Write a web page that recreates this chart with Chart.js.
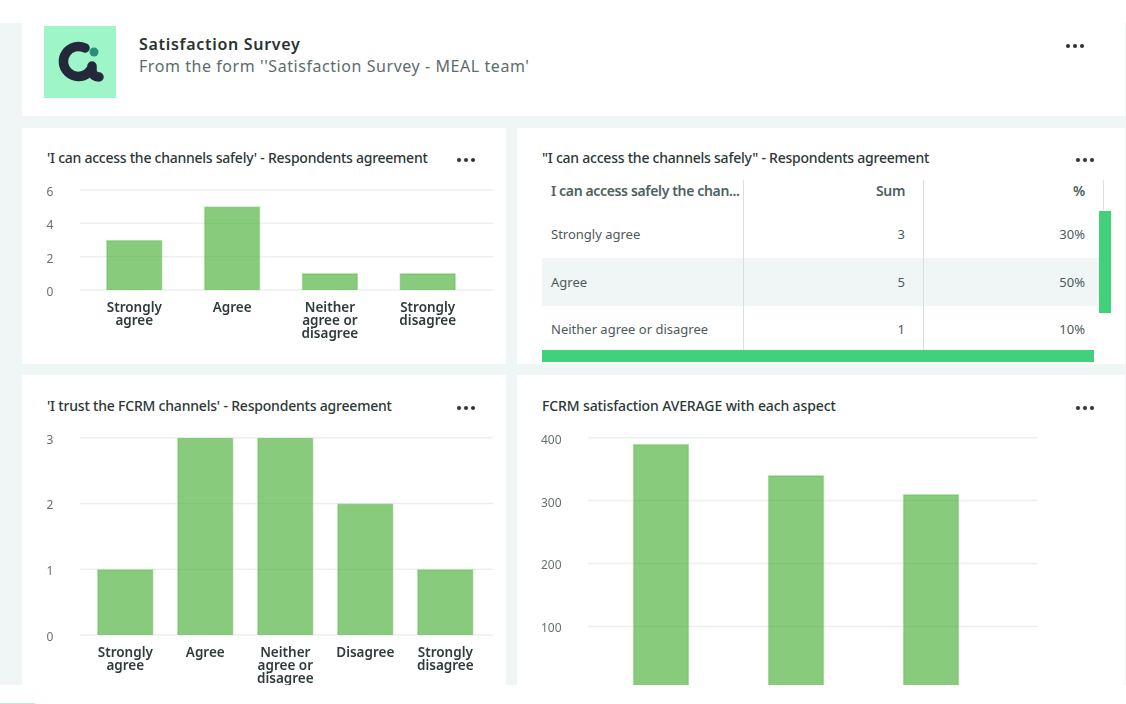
<!DOCTYPE html>
<html>
<head>
<meta charset="utf-8">
<title>Satisfaction Survey</title>
<script src="https://cdn.jsdelivr.net/npm/chart.js@4"></script>
<style>
  html, body { margin: 0; padding: 0; background: #fff; overflow: hidden; }
  body { width: 1126px; height: 704px; position: relative; font-family: "Noto Sans", sans-serif; }
  #page { position: absolute; left: 0; top: 23px; width: 1126px; height: 662px; background: #f0f6f5; overflow: hidden; }
  .card { position: absolute; background: #fff; }
  .title { position: absolute; font-size: 14px; font-weight: 500; color: #2d3838; white-space: nowrap; line-height: 20px; }
  .dots { position: absolute; font-size: 0; display: flex; gap: 3px; }
  .dots i { display: block; width: 4px; height: 4px; border-radius: 50%; background: #2a3232; }
  canvas { position: absolute; }
  #logo { position: absolute; left: 44px; top: 3px; width: 72px; height: 72px; }
  #mainTitle { position: absolute; left: 139px; top: 10px; font-size: 16px; font-weight: 600; letter-spacing: 0.7px; color: #2a3232; line-height: 22px; white-space: nowrap; }
  #subTitle { position: absolute; left: 139px; top: 32px; font-size: 16px; letter-spacing: 0.56px; color: #5d6c6c; line-height: 22px; white-space: nowrap; }
  #tableWrap { position: absolute; left: 542px; top: 157px; width: 562px; height: 193px; font-size: 13px; color: #4d5a5a; }
  .row { position: absolute; left: 0; width: 557px; }
  .row span { position: absolute; top: 0; white-space: nowrap; }
  .c1 { left: 9px; }
  .c2 { right: 194px; }
  .c3 { right: 14px; }
  .head { font-weight: 600; font-size: 14px; letter-spacing: -0.35px; color: #4f6060; }
  .vline { position: absolute; top: 0; width: 1px; height: 170px; background: #d9dede; }
  .green { position: absolute; background: #43d07a; }
  #bottomMark { position: absolute; left: 0; top: 703px; width: 35px; height: 1px; background: #b5f0d0; }
</style>
</head>
<body>
<div id="page">
  <div class="card" style="left:22px;top:0;width:1103px;height:93px"></div>
  <svg id="logo" viewBox="0 0 72 72">
    <rect width="72" height="72" fill="#9df5c8"/>
    <path d="M41 22 A15 15 0 1 0 44 47 L48 42 M48 40 V45 Q49 51 55 51" fill="none" stroke="#23283a" stroke-width="9.5" stroke-linecap="round" stroke-linejoin="round"/>
    <circle cx="50" cy="26" r="4.5" fill="#2a8f78"/>
  </svg>
  <div id="mainTitle">Satisfaction Survey</div>
  <div id="subTitle">From the form ''Satisfaction Survey - MEAL team'</div>
  <div class="dots" style="left:1066px;top:21px"><i></i><i></i><i></i></div>

  <div class="card" style="left:22px;top:105px;width:484px;height:236px"></div>
  <div class="title" style="left:47px;top:125px;letter-spacing:-0.25px">'I can access the channels safely' - Respondents agreement</div>
  <div class="dots" style="left:457px;top:135px"><i></i><i></i><i></i></div>
  <canvas id="safeChart" width="470" height="175" style="left:30px;top:152px"></canvas>

  <div class="card" style="left:517px;top:105px;width:608px;height:236px"></div>
  <div class="title" style="left:542px;top:125px;letter-spacing:-0.23px">"I can access the channels safely" - Respondents agreement</div>
  <div class="dots" style="left:1076px;top:135px"><i></i><i></i><i></i></div>
  <div id="tableWrap"></div>
  <div class="green" style="left:1099px;top:188px;width:12px;height:102px"></div>
  <div class="green" style="left:542px;top:327px;width:552px;height:12px"></div>

  <div class="card" style="left:22px;top:352px;width:484px;height:320px"></div>
  <div class="title" style="left:47px;top:373px;letter-spacing:-0.2px">'I trust the FCRM channels' - Respondents agreement</div>
  <div class="dots" style="left:457px;top:383px"><i></i><i></i><i></i></div>
  <canvas id="trustChart" width="470" height="280" style="left:30px;top:402px"></canvas>

  <div class="card" style="left:517px;top:352px;width:608px;height:320px"></div>
  <div class="title" style="left:542px;top:373px;letter-spacing:-0.12px">FCRM satisfaction AVERAGE with each aspect</div>
  <div class="dots" style="left:1076px;top:383px"><i></i><i></i><i></i></div>
  <canvas id="averageChart" width="530" height="320" style="left:525px;top:402px"></canvas>
</div>
<div id="bottomMark"></div>

<script>
'use strict';

// Data
const safeCategories = [['Strongly', 'agree'], 'Agree', ['Neither', 'agree or', 'disagree'], ['Strongly', 'disagree']];
const safeValues = [3, 5, 1, 1];
const trustCategories = [['Strongly', 'agree'], 'Agree', ['Neither', 'agree or', 'disagree'], 'Disagree', ['Strongly', 'disagree']];
const trustValues = [1, 3, 3, 2, 1];
// the labels of this chart sit below the visible part of the page
const averageCategories = ['', '', ''];
const averageValues = [390, 340, 310];

const tableHeaders = ['I can access safely the chan...', 'Sum', '%'];
const tableLabels = ['Strongly agree', 'Agree', 'Neither agree or disagree'];
const tableSums = [3, 5, 1];
const tablePercents = ['30%', '50%', '10%'];

const barColor = 'rgba(72, 175, 56, 0.65)';
const barEdge = 'rgba(150, 215, 140, 0.6)';
const gridColor = 'rgba(50, 80, 70, 0.09)';

// Gridlines run a bit wider than the bars' plot area in the original
function wideGrid(gridLeft, gridRight) {
  return {
    id: 'wideGrid',
    beforeDatasetsDraw(chart) {
      const ctx = chart.ctx;
      const y = chart.scales.y;
      ctx.save();
      ctx.strokeStyle = gridColor;
      ctx.lineWidth = 1.5;
      y.ticks.forEach(function(tick) {
        const py = y.getPixelForValue(tick.value);
        ctx.beginPath();
        ctx.moveTo(gridLeft, py);
        ctx.lineTo(gridRight, py);
        ctx.stroke();
      });
      ctx.restore();
    }
  };
}

function renderBarChart(id, categories, values, opts) {
  const canvas = document.getElementById(id);
  return new Chart(canvas.getContext('2d'), {
    type: 'bar',
    data: {
      labels: categories,
      datasets: [{
        data: values,
        backgroundColor: barColor,
        borderColor: barEdge,
        borderWidth: 1,
        barThickness: 56
      }]
    },
    options: {
      responsive: false,
      animation: false,
      layout: { padding: { top: opts.top, right: opts.right, left: 0, bottom: 0 } },
      plugins: { legend: { display: false }, tooltip: { enabled: false } },
      scales: {
        x: {
          grid: { display: false, drawTicks: false },
          border: { display: false },
          afterFit(scale) {
            scale.height = opts.xHeight;
            scale.paddingLeft = 0;
            scale.paddingRight = 0;
          },
          ticks: {
            autoSkip: false,
            maxRotation: 0,
            padding: 11,
            color: '#2f3b3b',
            font: { family: 'Noto Sans', size: 13.5, weight: '600', lineHeight: 0.99 }
          }
        },
        y: {
          min: 0,
          max: opts.max,
          grid: { display: false, drawTicks: false },
          border: { display: false },
          afterFit(scale) {
            scale.width = opts.yWidth;
            scale.paddingTop = 0;
            scale.paddingBottom = 0;
          },
          ticks: {
            stepSize: opts.step,
            padding: 32,
            color: '#66716f',
            // empty first line with a small line height nudges the number down
            callback(value) { return ['', String(value)]; },
            font: { family: 'Noto Sans', size: 12, lineHeight: '5px' }
          }
        }
      }
    },
    plugins: [wideGrid(opts.gridLeft, opts.gridRight)]
  });
}

function renderTable() {
  const wrap = document.getElementById('tableWrap');
  const tops = [0, 31, 78, 126];
  const heights = [22, 47, 48, 46];
  for (let i = 0; i < 4; i++) {
    const row = document.createElement('div');
    row.className = i === 0 ? 'row head' : 'row';
    row.style.top = tops[i] + 'px';
    row.style.height = heights[i] + 'px';
    row.style.lineHeight = heights[i] + 'px';
    if (i === 2) {
      row.style.background = '#f0f6f5';
    }
    const cells = i === 0 ? tableHeaders : [tableLabels[i - 1], tableSums[i - 1], tablePercents[i - 1]];
    cells.forEach(function(text, c) {
      const span = document.createElement('span');
      span.className = 'c' + (c + 1);
      span.textContent = text;
      row.appendChild(span);
    });
    wrap.appendChild(row);
  }
  [201, 381, 561].forEach(function(x, i) {
    const line = document.createElement('div');
    line.className = 'vline';
    line.style.left = x + 'px';
    line.style.height = (i === 2 ? 30 : 170) + 'px';
    wrap.appendChild(line);
  });
}

renderTable();

renderBarChart('safeChart', safeCategories, safeValues, {
  top: 15, right: 23.4, xHeight: 60, yWidth: 55.4, max: 6, step: 2, gridLeft: 50, gridRight: 463
});
renderBarChart('trustChart', trustCategories, trustValues, {
  top: 12.7, right: 14.7, xHeight: 70, yWidth: 55.3, max: 3, step: 1, gridLeft: 50, gridRight: 463
});
renderBarChart('averageChart', averageCategories, averageValues, {
  top: 12.7, right: 56.5, xHeight: 55.7, yWidth: 68.5, max: 400, step: 100, gridLeft: 63, gridRight: 513
});
</script>
</body>
</html>
